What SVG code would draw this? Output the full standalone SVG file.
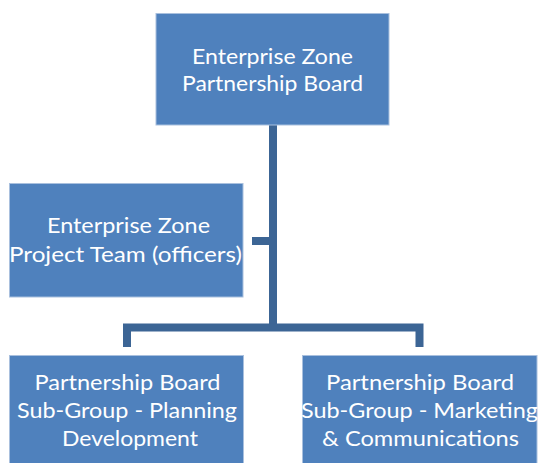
<svg xmlns="http://www.w3.org/2000/svg" width="540" height="463" viewBox="0 0 540 463">
<style>
.box{fill:#4f81bd;stroke:#a9c0de;stroke-width:1}
.lbl{font-family:Lato,"Open Sans","Liberation Sans",sans-serif;font-size:21px;fill:#ffffff;text-anchor:middle}
.conn{fill:none;stroke:#3c6595;stroke-width:8;stroke-linejoin:miter;stroke-linecap:butt}
</style>
<rect width="540" height="463" fill="#ffffff"/>
<g id="connectors">
<path class="conn" d="M273 125 V327.5"/>
<path class="conn" d="M252 241 H273"/>
<path class="conn" d="M127 347 V327.5 H419.5 V347"/>
</g>
<g id="board">
<rect class="box" x="156" y="13.5" width="233" height="111.5"/>
<text class="lbl" x="272.5" y="64" textLength="161" lengthAdjust="spacingAndGlyphs">Enterprise Zone</text>
<text class="lbl" x="272.5" y="91" textLength="181" lengthAdjust="spacingAndGlyphs">Partnership Board</text>
</g>
<g id="team">
<rect class="box" x="9.5" y="183.5" width="233.5" height="113.5"/>
<text class="lbl" x="128.5" y="233" textLength="163" lengthAdjust="spacingAndGlyphs">Enterprise Zone</text>
<text class="lbl" x="125.5" y="262" textLength="233" lengthAdjust="spacingAndGlyphs">Project Team (officers)</text>
</g>
<g id="planning">
<rect class="box" x="9.5" y="355.5" width="234" height="115"/>
<text class="lbl" x="127.5" y="390" textLength="186" lengthAdjust="spacingAndGlyphs">Partnership Board</text>
<text class="lbl" x="127" y="418" textLength="220" lengthAdjust="spacingAndGlyphs">Sub-Group - Planning</text>
<text class="lbl" x="130" y="446" textLength="136" lengthAdjust="spacingAndGlyphs">Development</text>
</g>
<g id="marketing">
<rect class="box" x="302.5" y="355.5" width="234.5" height="115"/>
<text class="lbl" x="420" y="390" textLength="188" lengthAdjust="spacingAndGlyphs">Partnership Board</text>
<text class="lbl" x="419.5" y="418" textLength="237" lengthAdjust="spacingAndGlyphs">Sub-Group - Marketing</text>
<text class="lbl" x="420.5" y="446" textLength="197" lengthAdjust="spacingAndGlyphs">&amp; Communications</text>
</g>
</svg>
